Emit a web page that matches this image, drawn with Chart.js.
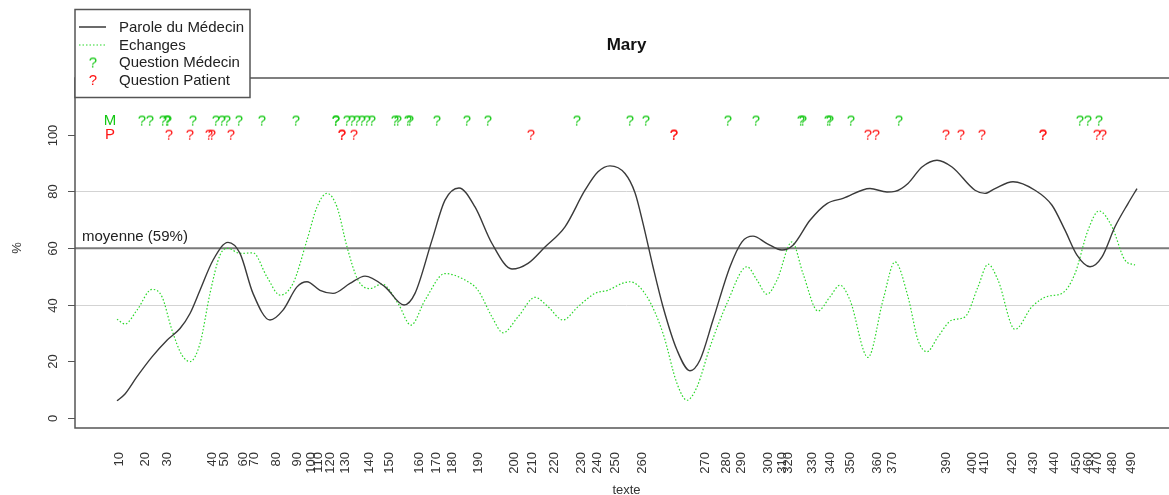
<!DOCTYPE html>
<html><head><meta charset="utf-8">
<script src="https://cdn.jsdelivr.net/npm/chart.js@4"></script>
<style>html,body{margin:0;padding:0;background:#fff;overflow:hidden;width:1169px;height:495px}</style>
</head><body>
<canvas id="c" width="1190" height="495"></canvas>
<script>
// ---------- DATA ----------
const chartTitle = "Mary";
const xAxisTitle = "texte";
const yAxisTitle = "%";
const meanValue = 59.9;
const meanLabel = "moyenne (59%)";
const legendLabels = ["Parole du Médecin", "Echanges", "Question Médecin", "Question Patient"];

// Parole du Médecin (position dans le texte, %)
const medecinX = [0,8,20,35,50,63,73,83,96,111,123,136,153,166,180,190,203,216,233,248,268,287,298,315,328,342,358,375,395,411,428,448,468,481,493,508,518,526,536,546,560,573,583,596,613,625,636,650,665,676,693,710,726,753,770,778,791,805,820,835,858,868,878,896,918,935,948,960,973,985,998,1011,1020];
const medecinY = [6.1,8.5,14.6,21.6,27.5,31.6,36.9,45.1,55.7,62,58.1,44,34.6,38.1,46.3,48.1,45.1,44,47.5,50.1,46.3,39.9,44,62.8,76.9,81.2,74.5,61.6,52.6,54.6,60.4,67.5,80.4,86.9,89,86.3,79.5,68.7,53.4,39.3,24,16.7,20.5,34.6,53.4,62.2,64.2,61.6,59.3,61,69.8,75.7,77.5,81,79.8,80,82.8,88.6,91,88.6,80.4,79.3,81,83.4,80.4,75.1,66.3,57.5,53.4,56.9,67.5,75.7,81];

// Echanges
const echangesX = [0,8,20,35,45,55,65,73,83,93,103,111,123,136,150,163,176,190,200,210,220,230,241,253,265,281,294,308,328,348,361,375,386,401,418,431,446,461,478,491,505,513,530,546,560,570,580,593,610,630,640,650,660,675,686,701,713,723,733,751,766,778,791,801,810,821,835,848,861,871,881,898,915,931,945,958,971,982,995,1008,1018];
const echangesY = [34.9,33.2,38.1,45.4,42.8,31,22.2,19.9,26.3,44,57.5,59.9,58.1,58.3,49.8,43.4,47.5,62.8,74.5,79.3,74.5,60.4,48.7,45.7,47.3,40.5,32.8,41.6,51,48.7,45.1,35.7,30.1,35.7,42.6,39.3,34.6,39.3,44,45.1,47.5,48.1,42.8,29.9,12.2,6.3,11,25.1,40.5,53.4,48.7,43.7,48.7,62.2,51,37.8,42.8,46.9,41.6,21.4,41.6,55.1,42.8,27.5,23.4,28.7,34.6,35.7,46.3,54.3,48.7,31.3,39.3,43,44,51,66.3,73.1,67.5,55.7,54];

// Questions (position dans le texte)
const qMedecinX = [25,33,46,50,51,76,99,105,110,122,145,179,219,219,230,235,240,245,250,255,278,281,291,293,320,350,371,460,513,529,611,639,684,686,711,713,734,782,963,971,982];
const qPatientX = [52,73,92,95,114,225,225,237,414,557,557,751,759,829,844,865,926,926,980,986];
const qMedecinLevel = 105;
const qPatientLevel = 100;

// Tick labels of the text axis (numéro de tour) and their positions
const xTickPos = [2,28,50,95,107,126,137,159,180,194,201,213,228,252,272,302,319,335,361,397,415,437,464,480,498,525,588,609,624,651,665,671,695,713,733,760,775,829,855,867,895,916,937,959,971,980,995,1014];
const xTickLabels = ["10","20","30","40","50","60","70","80","90","100","110","120","130","140","150","160","170","180","190","200","210","220","230","240","250","260","270","280","290","300","310","320","330","340","350","360","370","390","400","410","420","430","440","450","460","470","480","490"];
const yTicks = [0,20,40,60,80,100];
const yGrid = [40,80];

// ---------- STYLE ----------
const FONT = '"Liberation Sans", Arial, Helvetica, sans-serif';
const GREEN_LINE = 'rgb(40,215,40)';
const GREEN_Q = 'rgb(20,200,20)';
const RED_Q = 'rgb(255,20,20)';
const DARK = '#3a3a3a';

function glyphImage(ch, color, size) {
  const cv = document.createElement('canvas');
  cv.width = 14; cv.height = 20;
  const g = cv.getContext('2d');
  g.fillStyle = color;
  g.font = size + 'px ' + FONT;
  g.textAlign = 'center';
  g.textBaseline = 'middle';
  g.fillText(ch, 7, 10.5);
  return cv;
}
const qGreen = glyphImage('?', GREEN_Q, 15);
const qRed = glyphImage('?', RED_Q, 15);

const toPts = (xs, ys) => xs.map((x, i) => ({x, y: ys[i]}));
const constPts = (xs, v) => xs.map(x => ({x, y: v}));

const decor = {
  id: 'decor',
  beforeDatasetsDraw(chart) {
    const {ctx, chartArea: a, scales: {x: xs, y: ys}} = chart;
    ctx.save();
    ctx.strokeStyle = '#d3d3d3'; ctx.lineWidth = 1;
    yGrid.forEach(v => {
      const py = Math.round(ys.getPixelForValue(v)) + 0.5;
      ctx.beginPath(); ctx.moveTo(a.left, py); ctx.lineTo(a.right, py); ctx.stroke();
    });
    const my = ys.getPixelForValue(meanValue);
    ctx.strokeStyle = '#7a7a7a'; ctx.lineWidth = 2;
    ctx.beginPath(); ctx.moveTo(a.left, my); ctx.lineTo(a.right, my); ctx.stroke();
    ctx.fillStyle = '#222'; ctx.font = '15px ' + FONT;
    ctx.textAlign = 'left'; ctx.textBaseline = 'alphabetic';
    ctx.fillText(meanLabel, a.left + 7, my - 7);
    ctx.strokeStyle = '#555'; ctx.lineWidth = 1.5;
    ctx.strokeRect(a.left, a.top, a.right - a.left, a.bottom - a.top);
    ctx.lineWidth = 1; ctx.strokeStyle = '#555';
    ctx.fillStyle = '#333'; ctx.font = '13px ' + FONT;
    yTicks.forEach(v => {
      const py = Math.round(ys.getPixelForValue(v)) + 0.5;
      ctx.beginPath(); ctx.moveTo(a.left - 7, py); ctx.lineTo(a.left, py); ctx.stroke();
      ctx.save(); ctx.translate(a.left - 22, py); ctx.rotate(-Math.PI / 2);
      ctx.textAlign = 'center'; ctx.textBaseline = 'middle';
      ctx.fillText(String(v), 0, 0); ctx.restore();
    });
    ctx.restore();
  },
  afterDraw(chart) {
    const {ctx, chartArea: a, scales: {x: xs, y: ys}} = chart;
    ctx.save();
    ctx.fillStyle = '#333'; ctx.font = '13px ' + FONT;
    xTickPos.forEach((p, i) => {
      const px = xs.getPixelForValue(p);
      ctx.save(); ctx.translate(px, a.bottom + 24); ctx.rotate(-Math.PI / 2);
      ctx.textAlign = 'right'; ctx.textBaseline = 'middle';
      ctx.fillText(xTickLabels[i], 0, 0); ctx.restore();
    });
    ctx.font = '15px ' + FONT; ctx.textAlign = 'center'; ctx.textBaseline = 'middle';
    const lx = xs.getPixelForValue(-7);
    ctx.fillStyle = GREEN_Q; ctx.fillText('M', lx, ys.getPixelForValue(qMedecinLevel) + 0.5);
    ctx.fillStyle = RED_Q; ctx.fillText('P', lx, ys.getPixelForValue(qPatientLevel) + 0.5);
    const cx = (a.left + a.right) / 2;
    ctx.fillStyle = '#111'; ctx.font = 'bold 17px ' + FONT;
    ctx.fillText(chartTitle, cx, 45);
    ctx.fillStyle = '#333'; ctx.font = '13px ' + FONT;
    ctx.textBaseline = 'top';
    ctx.fillText(xAxisTitle, cx, 484);
    ctx.save(); ctx.translate(17, 248); ctx.rotate(-Math.PI / 2);
    ctx.textBaseline = 'middle'; ctx.fillText(yAxisTitle, 0, 0); ctx.restore();
    // legend
    ctx.fillStyle = '#fff'; ctx.fillRect(75, 9, 175, 88);
    ctx.strokeStyle = '#555'; ctx.lineWidth = 1.5; ctx.strokeRect(75, 9.5, 175, 88);
    const rows = [27, 45, 62.5, 80];
    ctx.strokeStyle = DARK; ctx.lineWidth = 1.5; ctx.setLineDash([]);
    ctx.beginPath(); ctx.moveTo(79, rows[0]); ctx.lineTo(106, rows[0]); ctx.stroke();
    ctx.strokeStyle = GREEN_LINE; ctx.lineWidth = 1.2; ctx.setLineDash([1.5, 2]);
    ctx.beginPath(); ctx.moveTo(79, rows[1]); ctx.lineTo(106, rows[1]); ctx.stroke();
    ctx.setLineDash([]);
    ctx.drawImage(qGreen, 93 - 7, rows[2] - 10);
    ctx.drawImage(qRed, 93 - 7, rows[3] - 10);
    ctx.fillStyle = '#222'; ctx.font = '15px ' + FONT; ctx.textAlign = 'left'; ctx.textBaseline = 'middle';
    legendLabels.forEach((t, i) => ctx.fillText(t, 119, rows[i] + 0.5));
    ctx.restore();
  }
};

new Chart(document.getElementById('c'), {
  type: 'line',
  data: {
    datasets: [
      {label: legendLabels[0], data: toPts(medecinX, medecinY), borderColor: DARK, borderWidth: 1.4,
       pointRadius: 0, cubicInterpolationMode: 'monotone', fill: false},
      {label: legendLabels[1], data: toPts(echangesX, echangesY), borderColor: GREEN_LINE, borderWidth: 1.2,
       borderDash: [1.5, 2], pointRadius: 0, cubicInterpolationMode: 'monotone', fill: false},
      {label: legendLabels[2], data: constPts(qMedecinX, qMedecinLevel), showLine: false,
       pointStyle: qGreen, pointRadius: 7},
      {label: legendLabels[3], data: constPts(qPatientX, qPatientLevel), showLine: false,
       pointStyle: qRed, pointRadius: 7}
    ]
  },
  options: {
    responsive: false, animation: false, devicePixelRatio: 1,
    layout: {autoPadding: false, padding: {left: 75, top: 78, right: 12, bottom: 67}},
    plugins: {legend: {display: false}, tooltip: {enabled: false}, title: {display: false}},
    scales: {
      x: {type: 'linear', min: -42, max: 1061, display: false},
      y: {type: 'linear', min: -3.5, max: 120, display: false}
    },
    clip: false
  },
  plugins: [decor]
});
</script>
</body></html>
